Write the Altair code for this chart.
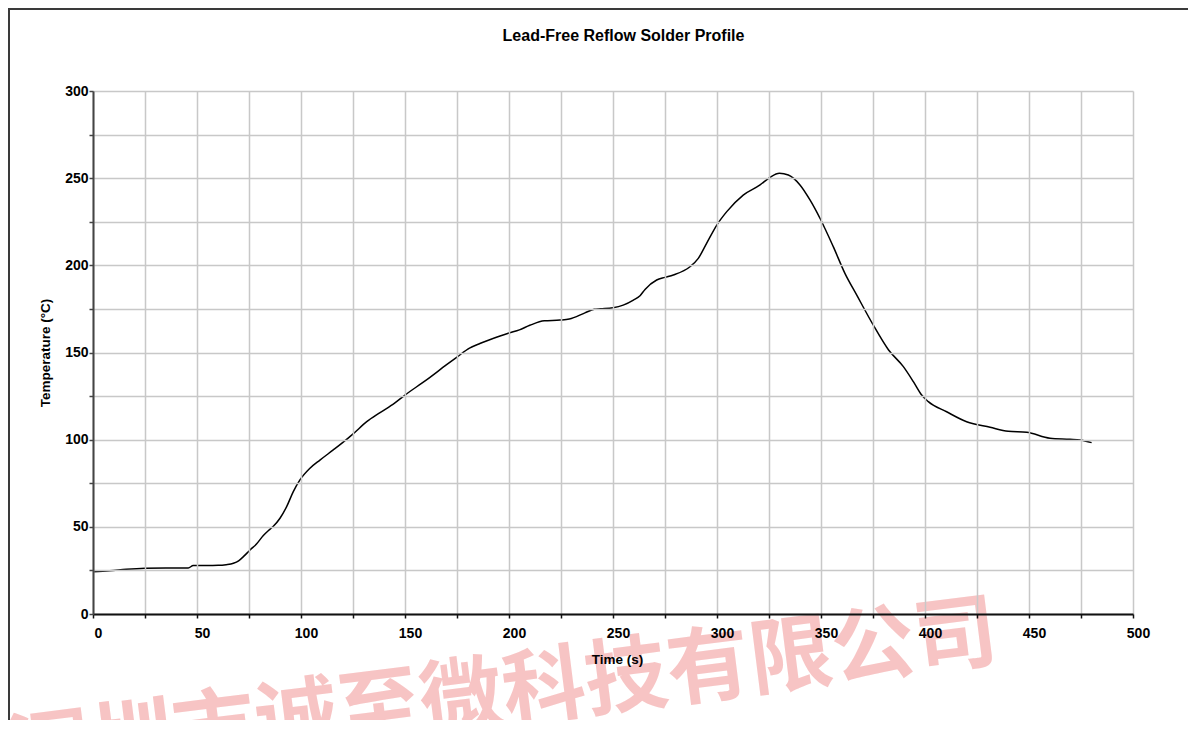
import altair as alt
import pandas as pd

# ---- data ----
time_s = [0, 8, 16, 25, 35, 45.8, 48.2, 55, 60.2, 64, 67.5, 70, 72.3, 75.5, 78.7,
          81.9, 84.5, 86.7, 89.9, 93.1, 96.3, 99.5, 104.3, 109.1, 115.5, 120, 125.2,
          131.6, 138, 145, 150, 160, 170, 175, 181, 186, 195.7, 200, 205, 210, 217,
          224.5, 229, 236.5, 241, 244, 250, 254.9, 259.8, 263, 265.4, 271, 275, 279,
          287, 291, 295, 299.9, 304.7, 312.6, 320.7, 325.5, 330, 334.3, 339.9, 344.7,
          349.5, 355.9, 361.5, 367.2, 375.1, 382.4, 389.6, 394.4, 398.4, 401.6, 410.4,
          420, 431.3, 440, 448.9, 460.1, 469.7, 474.5, 480.1]
temp_c = [24.3, 24.8, 25.6, 26.2, 26.4, 26.4, 27.8, 27.8, 27.9, 28.3, 29.1, 30.5, 32.9,
          36.7, 40.3, 45.0, 48.0, 50.3, 54.9, 61.6, 70.2, 76.9, 83.6, 88.3, 94.1, 98.3,
          103.5, 110.3, 115.5, 121, 125.6, 134, 143, 147.4, 152.5, 155.2, 159.5, 161.2,
          163, 165.6, 168.2, 168.6, 169.2, 172.7, 174.8, 175.1, 175.7, 177.2, 180.1,
          182.6, 186.2, 191.6, 193.1, 194.5, 199.2, 204, 212.6, 223.1, 230.8, 240.3,
          246.1, 250.5, 252.8, 251.8, 246.1, 237.5, 227, 210.7, 195.4, 182.9, 165.8,
          151.6, 141.9, 133.3, 125.6, 121.8, 116, 110.3, 107.1, 104.8, 104.2, 100.8,
          100.2, 99.8, 98.3]

x_ticks = list(range(0, 501, 25))
y_ticks = list(range(0, 301, 25))
title_text = ["Lead-Free Reflow Solder Profile"]
watermark = ["深圳市诚至微科技有限公司"]

df = pd.DataFrame({"t": time_s, "T": temp_c})
wm = pd.DataFrame({"label": watermark})
tt = pd.DataFrame({"label": title_text})
frame = pd.DataFrame({"k": [0]})

FONT = "Liberation Sans"

border = alt.Chart(frame).mark_rect(
    fill=None, stroke="#3a3a3a", strokeWidth=2, clip=False
).encode(
    x=alt.value(-84), x2=alt.value(1200), y=alt.value(-82), y2=alt.value(900)
)

wmark = alt.Chart(wm).mark_text(
    font="Noto Sans CJK SC", fontSize=83, fontWeight="bold",
    color="#f4a6a6", opacity=0.65, angle=352.8,
    align="center", baseline="middle", clip=False
).encode(
    x=alt.value(410), y=alt.value(605), text="label:N"
)

title = alt.Chart(tt).mark_text(
    font=FONT, fontSize=16, fontWeight="bold", color="#000000",
    align="center", baseline="alphabetic", clip=False
).encode(
    x=alt.value(530.5), y=alt.value(-50.5), text="label:N"
)

line = alt.Chart(df).mark_line(color="#000000", strokeWidth=1.5, interpolate="monotone").encode(
    x=alt.X("t:Q", title="Time (s)",
            scale=alt.Scale(domain=[0, 500], nice=False, zero=False),
            axis=alt.Axis(values=x_ticks,
                          labelExpr="datum.value % 50 === 0 ? datum.label : ''",
                          domainColor="#111111", domainWidth=2,
                          tickColor="#111111", tickWidth=1.5, tickSize=4,
                          labelPadding=8, labelOffset=5, labelFlush=False,
                          titlePadding=12, titleX=524, zindex=1)),
    y=alt.Y("T:Q", title="Temperature (°C)",
            scale=alt.Scale(domain=[0, 300], nice=False, zero=True),
            axis=alt.Axis(values=y_ticks,
                          labelExpr="datum.value % 50 === 0 ? datum.label : ''",
                          domainColor="#444444", domainWidth=2,
                          tickColor="#444444", tickWidth=1.5, tickSize=4,
                          labelPadding=1, labelFlush=False, titlePadding=12, zindex=1)),
)

chart = alt.layer(border, wmark, title, line).properties(
    width=1040,
    height=523,
    background="#ffffff",
    autosize=alt.AutoSizeParams(type="none"),
    padding={"left": 85, "top": 83, "right": 55, "bottom": 106},
).configure_view(
    stroke=None
).configure_axis(
    grid=True, gridColor="#c8c8c8", gridWidth=1.5,
    labelFont=FONT, labelFontSize=14, labelFontWeight="bold", labelColor="#000000",
    titleFont=FONT, titleFontSize=13.5, titleFontWeight="bold", titleColor="#000000",
)

chart.save("out.html", embed_options={"renderer": "svg", "actions": False})
